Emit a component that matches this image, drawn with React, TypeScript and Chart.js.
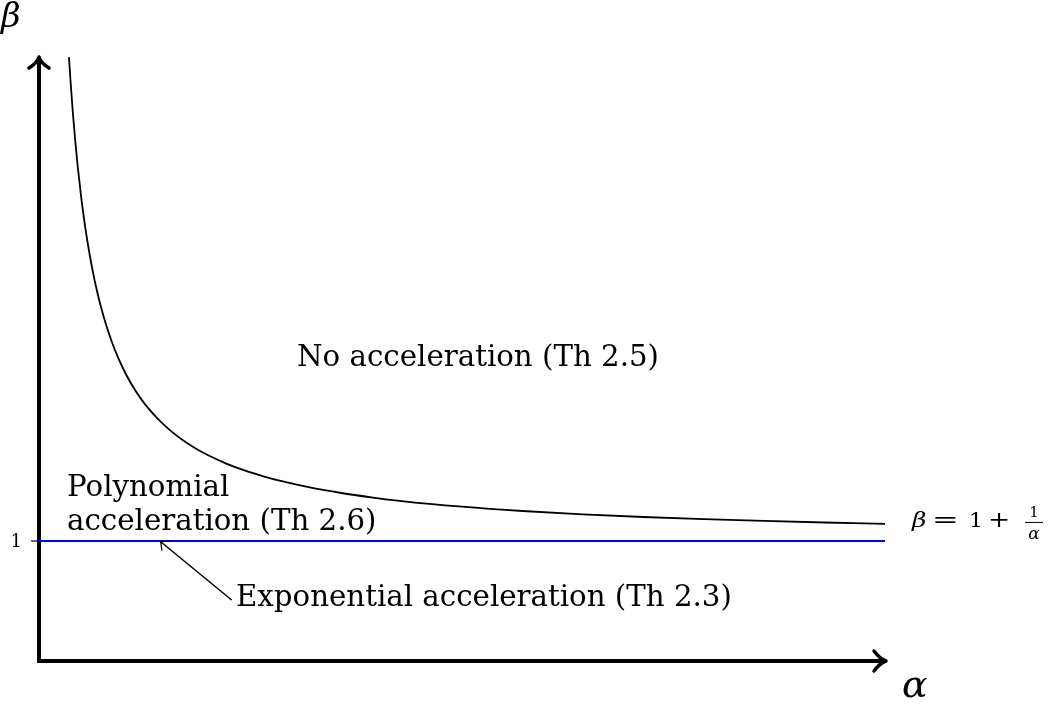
import React, { useEffect, useRef } from 'react';
import { Chart, registerables } from 'chart.js';

Chart.register(...registerables);

// Curve beta = 1 + 1/alpha
const curveAlpha = [0.248, 0.26, 0.28, 0.3, 0.32, 0.35, 0.38, 0.4, 0.42, 0.45, 0.48, 0.5, 0.55, 0.6, 0.65, 0.7, 0.75, 0.8, 0.85, 0.9, 1.0, 1.1, 1.2, 1.3, 1.4, 1.55, 1.7, 1.85, 2.0, 2.25, 2.5, 2.75, 3.0, 3.5, 4.0, 4.5, 5.0, 5.5, 6.0, 6.5, 7.0];
const curveBeta = [5.032, 4.846, 4.571, 4.333, 4.125, 3.857, 3.632, 3.5, 3.381, 3.222, 3.083, 3.0, 2.818, 2.667, 2.538, 2.429, 2.333, 2.25, 2.176, 2.111, 2.0, 1.909, 1.833, 1.769, 1.714, 1.645, 1.588, 1.541, 1.5, 1.444, 1.4, 1.364, 1.333, 1.286, 1.25, 1.222, 1.2, 1.182, 1.167, 1.154, 1.143];

// Horizontal line beta = 1
const thresholdAlpha = [0, 7];
const thresholdBeta = [1, 1];

// Y tick
const yTickValues = [1];
const yTickLabels = ['1'];

// Region labels
const regionLabels = ['No acceleration (Th 2.5)', 'Polynomial', 'acceleration (Th 2.6)', 'Exponential acceleration (Th 2.3)'];
const regionAlpha = [2.135, 0.232, 0.232, 1.63];
const regionBeta = [2.458, 1.375, 1.092, 0.458];

const X_MAX = 7;
const Y_MAX = 5.033;

const SERIF = '"DejaVu Serif", serif';

function wideText(ctx: CanvasRenderingContext2D, t: string, x: number, y: number, sx: number) {
  ctx.save();
  ctx.translate(x, y);
  ctx.scale(sx, 1);
  ctx.fillText(t, 0, 0);
  ctx.restore();
}

const overlayPlugin = {
  id: 'overlay',
  beforeDatasetsDraw(chart: any) {
    const ctx = chart.ctx as CanvasRenderingContext2D;
    const { left, right, top, bottom } = chart.chartArea;
    ctx.save();
    ctx.strokeStyle = '#000';
    ctx.lineWidth = 4;
    ctx.lineJoin = 'miter';
    ctx.lineCap = 'butt';
    ctx.beginPath();
    ctx.moveTo(left, top + 1);
    ctx.lineTo(left, bottom);
    ctx.lineTo(right, bottom);
    ctx.stroke();
    // arrow heads
    ctx.lineWidth = 3.5;
    ctx.lineCap = 'round';
    ctx.lineJoin = 'round';
    ctx.beginPath();
    ctx.moveTo(left - 10, top + 11);
    ctx.quadraticCurveTo(left - 2, top + 6, left, top);
    ctx.quadraticCurveTo(left + 2, top + 6, left + 10, top + 11);
    ctx.stroke();
    ctx.beginPath();
    ctx.moveTo(right - 11, bottom - 10);
    ctx.quadraticCurveTo(right - 5, bottom - 2, right + 1, bottom);
    ctx.quadraticCurveTo(right - 5, bottom + 2, right - 11, bottom + 10);
    ctx.stroke();
    // y ticks
    const ys = chart.scales.y;
    ctx.lineWidth = 1.2;
    ctx.lineCap = 'butt';
    ctx.fillStyle = '#000';
    ctx.font = `18px ${SERIF}`;
    ctx.textAlign = 'right';
    ctx.textBaseline = 'middle';
    yTickValues.forEach((v, i) => {
      const py = ys.getPixelForValue(v);
      ctx.beginPath();
      ctx.moveTo(left - 8, py);
      ctx.lineTo(left, py);
      ctx.stroke();
      ctx.fillText(yTickLabels[i], left - 17, py + 1);
    });
    ctx.restore();
  },
  afterDatasetsDraw(chart: any) {
    const ctx = chart.ctx as CanvasRenderingContext2D;
    const xs = chart.scales.x;
    const ys = chart.scales.y;
    const { right, bottom } = chart.chartArea;
    ctx.save();
    ctx.fillStyle = '#000';
    ctx.strokeStyle = '#000';
    // fit font size to reference width of main label
    ctx.font = `100px ${SERIF}`;
    const w100 = ctx.measureText(regionLabels[0]).width;
    const size = (362 / w100) * 100;
    ctx.font = `${size.toFixed(2)}px ${SERIF}`;
    ctx.textAlign = 'left';
    ctx.textBaseline = 'alphabetic';
    regionLabels.forEach((t, i) => {
      ctx.fillText(t, xs.getPixelForValue(regionAlpha[i]), ys.getPixelForValue(regionBeta[i]));
    });
    // pointer arrow
    const tx = xs.getPixelForValue(1.594), ty = ys.getPixelForValue(0.508);
    const hx = xs.getPixelForValue(1.007), hy = ys.getPixelForValue(0.994);
    ctx.lineWidth = 1.5;
    ctx.beginPath();
    ctx.moveTo(tx, ty);
    ctx.lineTo(hx, hy);
    ctx.stroke();
    const ang = Math.atan2(ty - hy, tx - hx);
    const al = 9, spread = 0.75;
    ctx.lineWidth = 1.2;
    ctx.beginPath();
    ctx.moveTo(hx + al * Math.cos(ang - spread), hy + al * Math.sin(ang - spread));
    ctx.lineTo(hx, hy);
    ctx.lineTo(hx + al * Math.cos(ang + spread), hy + al * Math.sin(ang + spread));
    ctx.stroke();
    // axis labels
    ctx.font = `italic 34px ${SERIF}`;
    ctx.fillText('β', 1, 27);
    ctx.font = `italic 38px ${SERIF}`;
    ctx.fillText('α', right + 17, bottom + 36);
    // formula beta = 1 + 1/alpha
    const fx = right + 27;
    const fb = ys.getPixelForValue(1.117);
    ctx.font = `italic 20px ${SERIF}`;
    wideText(ctx, 'β', fx, fb, 1.25);
    ctx.font = `22px ${SERIF}`;
    wideText(ctx, '=', fx + 20, fb, 1.45);
    ctx.font = `20px ${SERIF}`;
    wideText(ctx, '1', fx + 57, fb, 1.1);
    ctx.font = `22px ${SERIF}`;
    wideText(ctx, '+', fx + 76, fb, 1.2);
    ctx.font = `15px ${SERIF}`;
    ctx.textAlign = 'center';
    ctx.fillText('1', fx + 122, fb - 10);
    ctx.font = `italic 17px ${SERIF}`;
    ctx.fillText('α', fx + 122, fb + 12);
    ctx.lineWidth = 1;
    ctx.beginPath();
    ctx.moveTo(fx + 113, fb - 4.5);
    ctx.lineTo(fx + 131, fb - 4.5);
    ctx.stroke();
    ctx.restore();
  },
};

export default function App() {
  const ref = useRef<HTMLCanvasElement | null>(null);
  useEffect(() => {
    document.body.style.margin = '0';
    if (!ref.current) return;
    const chart = new Chart(ref.current, {
      type: 'scatter',
      data: {
        datasets: [
          {
            data: thresholdAlpha.map((a, i) => ({ x: a, y: thresholdBeta[i] })),
            showLine: true,
            borderColor: '#0000ff',
            borderWidth: 1.8,
            pointRadius: 0,
            clip: false as any,
          },
          {
            data: curveAlpha.map((a, i) => ({ x: a, y: curveBeta[i] })),
            showLine: true,
            borderColor: '#000',
            borderWidth: 1.8,
            pointRadius: 0,
            cubicInterpolationMode: 'monotone',
            clip: false as any,
          },
        ],
      },
      options: {
        responsive: false,
        animation: false,
        devicePixelRatio: 1,
        layout: { padding: { left: 39, right: 167, top: 57, bottom: 43 } },
        plugins: { legend: { display: false }, tooltip: { enabled: false } },
        events: [],
        scales: {
          x: { type: 'linear', min: 0, max: X_MAX, display: false },
          y: { type: 'linear', min: 0, max: Y_MAX, display: false },
        },
      },
      plugins: [overlayPlugin],
    });
    return () => chart.destroy();
  }, []);
  return (
    <div style={{ width: 1052, height: 704 }}>
      <canvas ref={ref} width={1052} height={704} style={{ display: 'block' }} />
    </div>
  );
}
